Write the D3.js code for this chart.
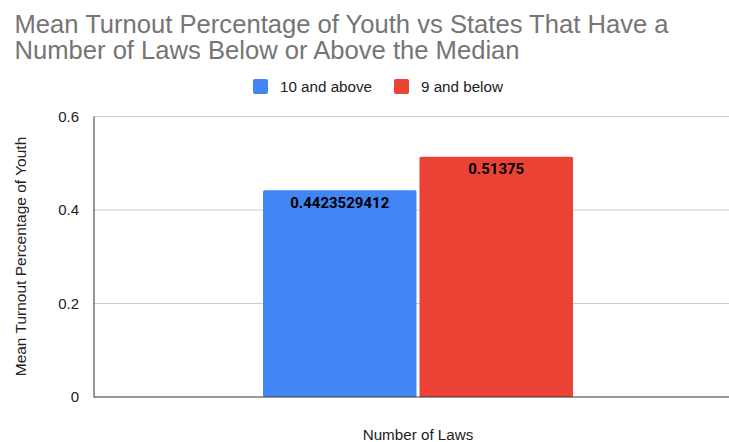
<!DOCTYPE html>
<html><head><meta charset="utf-8">
<script src="https://cdn.jsdelivr.net/npm/d3@7"></script>
<style>body{margin:0;background:#fff}svg{display:block;font-family:"Liberation Sans",Arial,sans-serif}</style>
</head><body>
<script>
const titleLines = ["Mean Turnout Percentage of Youth vs States That Have a", "Number of Laws Below or Above the Median"];
const categories = ["Number of Laws"];
const seriesNames = ["10 and above", "9 and below"];
const seriesValues = [0.4423529412, 0.51375];
const seriesLabels = ["0.4423529412", "0.51375"];
const seriesColors = ["#4285f4", "#ea4335"];
const yTicks = [0, 0.2, 0.4, 0.6];
const yTickLabels = ["0", "0.2", "0.4", "0.6"];

const W = 729, H = 442;
const svg = d3.select("body").append("svg").attr("width", W).attr("height", H);

svg.selectAll("text.title").data(titleLines).join("text")
  .attr("class", "title")
  .attr("x", 14.5).attr("y", (d, i) => 33 + i * 26.3)
  .attr("font-size", 25.6).attr("fill", "#757575").text(d => d);

const plot = {left: 94, top: 116.5, bottom: 397};
const y = d3.scaleLinear().domain([0, 0.6]).range([plot.bottom, plot.top]);
const x0 = d3.scaleBand().domain(categories).range([263, 573]).padding(0);
const x1 = d3.scaleBand().domain(seriesNames).range([0, x0.bandwidth()]).paddingInner(0.019);

// grid
svg.append("g").selectAll("line").data(yTicks.slice(1)).join("line")
  .attr("x1", plot.left).attr("x2", W).attr("y1", d => y(d)).attr("y2", d => y(d))
  .attr("stroke", "#cccccc").attr("stroke-width", 1);

// y axis labels
const yAxis = d3.axisLeft(y).tickValues(yTicks).tickFormat((d, i) => yTickLabels[i]).tickSize(0).tickPadding(15);
const ga = svg.append("g").attr("transform", `translate(${plot.left},0)`).call(yAxis);
ga.select(".domain").remove();
ga.selectAll("text").attr("font-size", 15).attr("fill", "#222").attr("font-family", "Liberation Sans, Arial, sans-serif");

// bars
const g = svg.append("g");
categories.forEach(c => {
  seriesNames.forEach((s, i) => {
    const bx = x0(c) + x1(s);
    g.append("rect").attr("x", bx).attr("y", y(seriesValues[i]))
      .attr("width", x1.bandwidth()).attr("height", y(0) - y(seriesValues[i]))
      .attr("rx", 1.5).attr("fill", seriesColors[i]);
    g.append("text").attr("x", bx + x1.bandwidth() / 2).attr("y", y(seriesValues[i]) + 17.5)
      .attr("text-anchor", "middle").attr("font-size", 15).attr("font-weight", "bold")
      .attr("font-family", "Roboto, Arial, sans-serif").attr("fill", "#000").text(seriesLabels[i]);
  });
});

// axes lines
svg.append("line").attr("x1", plot.left).attr("x2", plot.left).attr("y1", plot.top).attr("y2", plot.bottom + 0.5)
  .attr("stroke", "#333").attr("stroke-width", 1);
svg.append("line").attr("x1", plot.left).attr("x2", W).attr("y1", plot.bottom).attr("y2", plot.bottom)
  .attr("stroke", "#333").attr("stroke-width", 1);

// axis titles
svg.append("text").attr("transform", `translate(26,256.5) rotate(-90)`).attr("text-anchor", "middle")
  .attr("font-size", 15.5).attr("fill", "#222").text("Mean Turnout Percentage of Youth");
svg.append("text").attr("x", 418).attr("y", 440).attr("text-anchor", "middle")
  .attr("font-size", 15.2).attr("fill", "#222").text(categories[0]);

// legend
const legBX = [253, 394], legTX = [280, 421];
seriesNames.forEach((s, i) => {
  svg.append("rect").attr("x", legBX[i]).attr("y", 79).attr("width", 15).attr("height", 15)
    .attr("rx", 2).attr("fill", seriesColors[i]);
  svg.append("text").attr("x", legTX[i]).attr("y", 92).attr("font-size", 15.2).attr("fill", "#222").text(s);
});
</script>
</body></html>
